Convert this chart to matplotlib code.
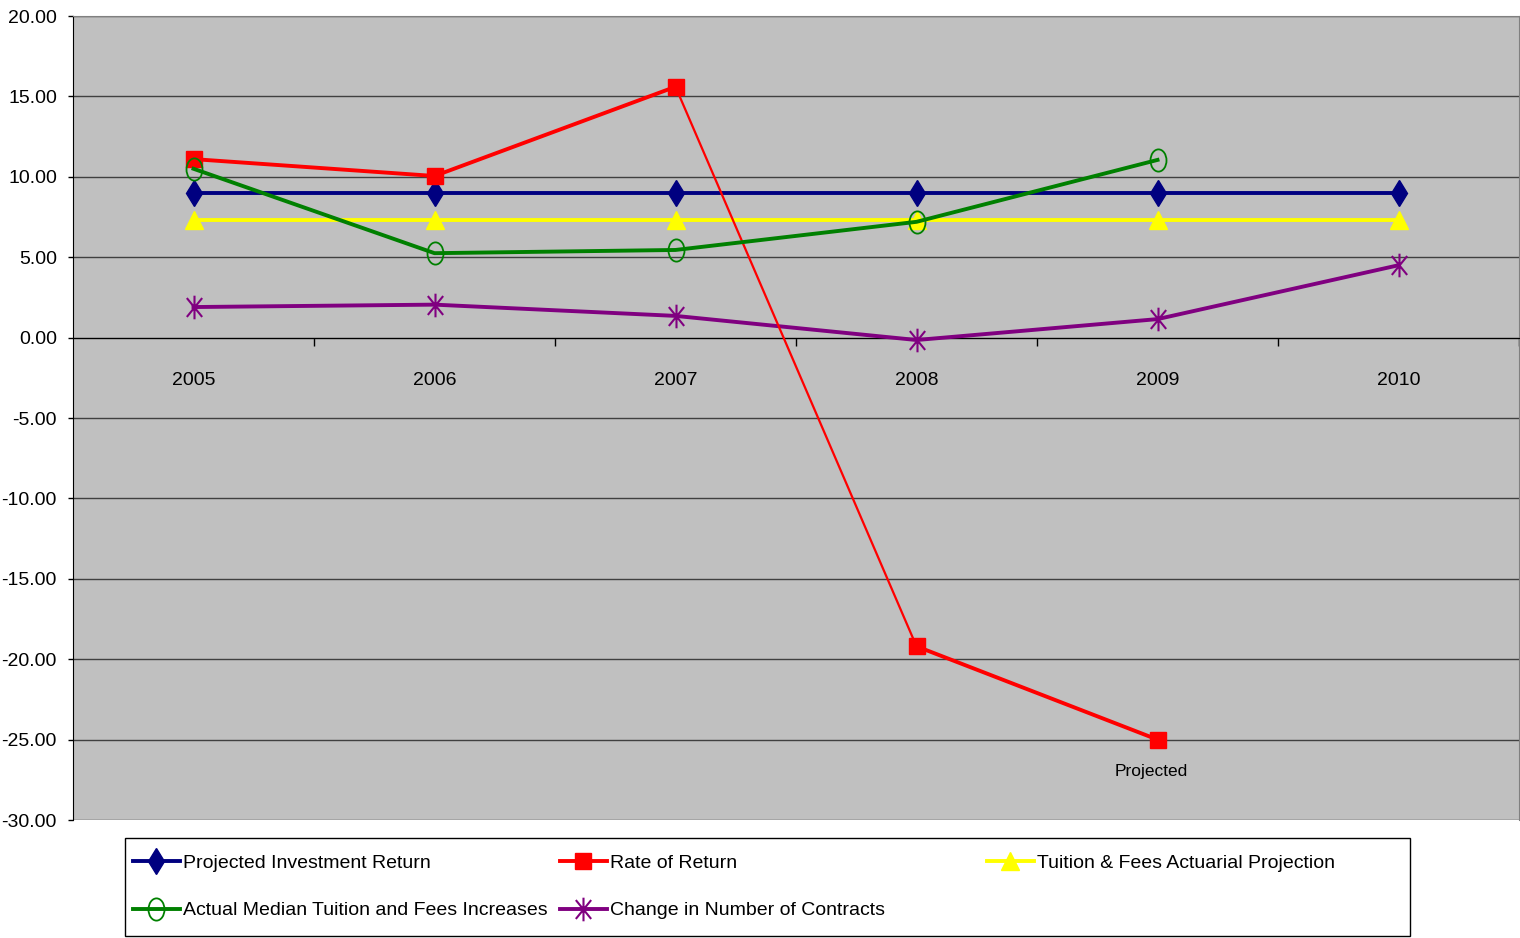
import numpy as np
import matplotlib
matplotlib.use("Agg")
import matplotlib.pyplot as plt
from matplotlib import font_manager
from matplotlib.path import Path
from matplotlib.patches import Rectangle

# data
years = ['2005', '2006', '2007', '2008', '2009', '2010']
projected_return = [9.0, 9.0, 9.0, 9.0, 9.0, 9.0]
rate_of_return = [11.1, 10.05, 15.6, -19.2, -25.0]
tuition_projection = [7.3, 7.3, 7.3, 7.3, 7.3, 7.3]
actual_tuition = [10.5, 5.25, 5.45, 7.2, 11.05]
contracts_change = [1.9, 2.05, 1.35, -0.15, 1.15, 4.5]
series_names = ['Projected Investment Return', 'Rate of Return',
                'Tuition & Fees Actuarial Projection',
                'Actual Median Tuition and Fees Increases',
                'Change in Number of Contracts']

names = {f.name for f in font_manager.fontManager.ttflist}
fam = 'Liberation Sans Narrow' if 'Liberation Sans Narrow' in names else 'Liberation Sans'
plt.rcParams['font.family'] = [fam, 'DejaVu Sans']
fs = 14

# tall ellipse and excel-style asterisk markers
circ = Path.unit_circle()
ellipse = Path(circ.vertices * [0.72, 1.0], circ.codes)
star = Path([(0, -1), (0, 1), (-0.65, -0.8), (0.65, 0.8), (-0.65, 0.8), (0.65, -0.8)],
            [Path.MOVETO, Path.LINETO] * 3)

fig = plt.figure(figsize=(15.2, 9.38), dpi=100)
ax = fig.add_axes([73 / 1520, 1 - 820 / 938, 1446 / 1520, 804 / 938])
ax.set_facecolor('#C0C0C0')

x = np.arange(len(years))
lw = 2.8

h1, = ax.plot(x, projected_return, color='#000080', lw=lw, marker='d', ms=13, zorder=4)
xr = x[:len(rate_of_return)]
h2, = ax.plot(xr[:3], rate_of_return[:3], color='#FF0000', lw=lw, marker='s', ms=11, zorder=5)
ax.plot(xr[2:4], rate_of_return[2:4], color='#FF0000', lw=1.6, zorder=4.9)
ax.plot(xr[3:], rate_of_return[3:], color='#FF0000', lw=lw, marker='s', ms=11, zorder=5)
h3, = ax.plot(x, tuition_projection, color='#FFFF00', lw=lw, marker='^', ms=13, zorder=3)
h4, = ax.plot(x[:len(actual_tuition)], actual_tuition, color='#008000', lw=lw,
              marker=ellipse, ms=16, mfc='none', mec='#008000', mew=1.3, zorder=6)
h5, = ax.plot(x, contracts_change, color='#800080', lw=lw, marker=star, ms=17,
              mew=1.5, zorder=4)

ax.annotate('Projected', (xr[4], rate_of_return[4]), xytext=(-4.5, -23),
            textcoords='offset points', ha='center', va='center', fontsize=12.5)

ax.set_xlim(-0.5, len(years) - 0.5)
ax.set_ylim(-30, 20)
ax.set_yticks(np.arange(-30, 21, 5))
ax.set_yticklabels([f'{v:.2f}' for v in np.arange(-30, 21, 5)], fontsize=fs)
ax.yaxis.grid(True, color='#404040', lw=1.0)
ax.set_axisbelow(True)
ax.tick_params(axis='y', length=3.6, width=1, pad=8)

ax.spines['bottom'].set_position(('data', 0))
ax.spines['bottom'].set_color('black')
ax.spines['left'].set_color('black')
ax.spines['top'].set_color('#808080')
ax.spines['right'].set_color('#808080')
ax.set_xticks(x)
ax.set_xticklabels(years, fontsize=fs)
ax.set_xticks(np.arange(0.5, len(years)), minor=True)
ax.tick_params(axis='x', which='major', length=0, pad=25)
ax.tick_params(axis='x', which='minor', length=6, width=1, direction='out')

# legend box in three columns
fig.add_artist(Rectangle((125 / 1520, 2 / 938), 1285 / 1520, 98 / 938,
                         transform=fig.transFigure, fill=False, ec='black', lw=1))
cols = [([h1, h4], [series_names[0], series_names[3]], 133),
        ([h2, h5], [series_names[1], series_names[4]], 560),
        ([h3], [series_names[2]], 987)]
for hs, labs, xp in cols:
    fig.legend(hs, labs, loc='upper left', bbox_to_anchor=(xp / 1520, 1 - 854 / 938),
               frameon=False, fontsize=fs, handlelength=2.4, handletextpad=0.15,
               labelspacing=1.55, borderpad=0, borderaxespad=0)

fig.savefig('out.png', dpi=100)
